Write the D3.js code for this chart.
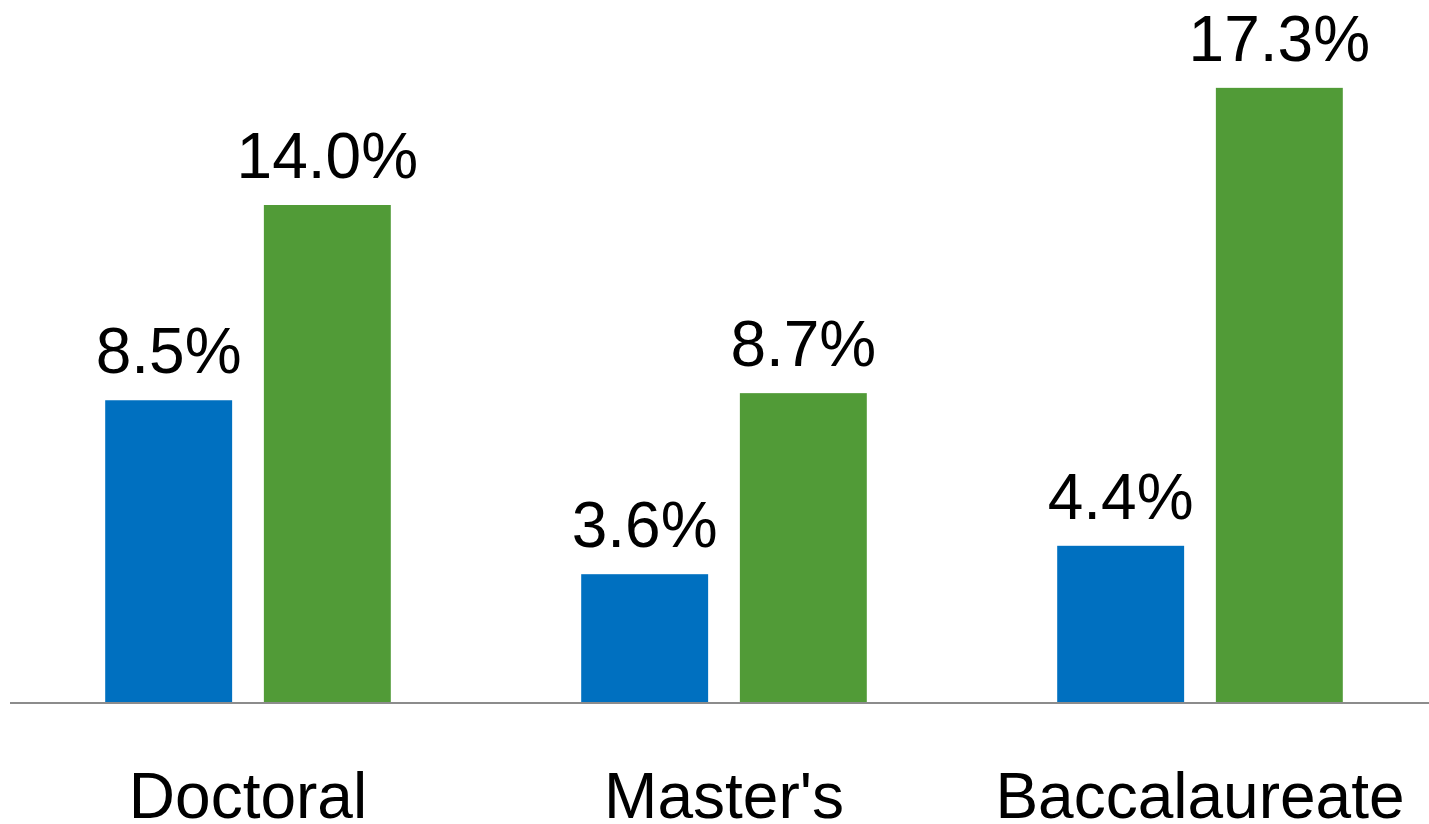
<!DOCTYPE html>
<html lang="en">
  <head>
    <meta charset="utf-8"/>
    <title>Grouped bars</title>
    <style>
      html, body { margin: 0; padding: 0; background: #fff; }
      svg { display: block; }
      text { font-family: "Liberation Sans", Arial, sans-serif; fill: #000; }
    </style>
  </head>
  <body>
    <div id="chart"></div>

<script src="https://d3js.org/d3.v7.min.js"></script>
<script>
  const categories = ["Doctoral", "Master's", "Baccalaureate"];
  const series = ["first", "second"];
  const firstValues = [8.5, 3.6, 4.4];
  const secondValues = [14.0, 8.7, 17.3];
  const colors = ["#0070C0", "#519B37"];

  const width = 1429;
  const height = 824;
  const baseY = 702;

  const svg = d3.select("#chart").append("svg")
      .attr("width", width)
      .attr("height", height);

  const x0 = d3.scaleBand()
      .domain(categories)
      .range([10, 1438]);

  const x1 = d3.scaleBand()
      .domain(series)
      .range([0, x0.bandwidth()])
      .paddingInner(0.2)
      .paddingOuter(0.6);

  const y = d3.scaleLinear()
      .domain([0, 20])
      .range([baseY, baseY - 710]);

  const rows = categories.map((c, i) => ({
    category: c,
    values: [firstValues[i], secondValues[i]]
  }));

  const groups = svg.append("g")
    .selectAll("g")
    .data(rows)
    .join("g")
      .attr("transform", d => `translate(${x0(d.category)},0)`);

  groups.selectAll("rect")
    .data(d => d.values.map((v, i) => ({ key: series[i], value: v, i })))
    .join("rect")
      .attr("x", d => x1(d.key))
      .attr("y", d => y(d.value))
      .attr("width", x1.bandwidth())
      .attr("height", d => y(0) - y(d.value))
      .attr("fill", d => colors[d.i]);

  groups.selectAll("text.value")
    .data(d => d.values.map((v, i) => ({ key: series[i], value: v })))
    .join("text")
      .attr("class", "value")
      .attr("x", d => x1(d.key) + x1.bandwidth() / 2)
      .attr("y", d => y(d.value) - 27)
      .attr("text-anchor", "middle")
      .attr("font-size", 64)
      .text(d => d.value.toFixed(1) + "%");

  // baseline
  svg.append("line")
      .attr("x1", 10)
      .attr("x2", width)
      .attr("y1", y(0) + 1)
      .attr("y2", y(0) + 1)
      .attr("stroke", "#8c8c8c")
      .attr("stroke-width", 2);

  // category labels
  svg.append("g")
    .selectAll("text")
    .data(categories)
    .join("text")
      .attr("x", d => x0(d) + x0.bandwidth() / 2)
      .attr("y", 818)
      .attr("text-anchor", "middle")
      .attr("font-size", 64)
      .text(d => d);
</script>
  </body>
</html>
